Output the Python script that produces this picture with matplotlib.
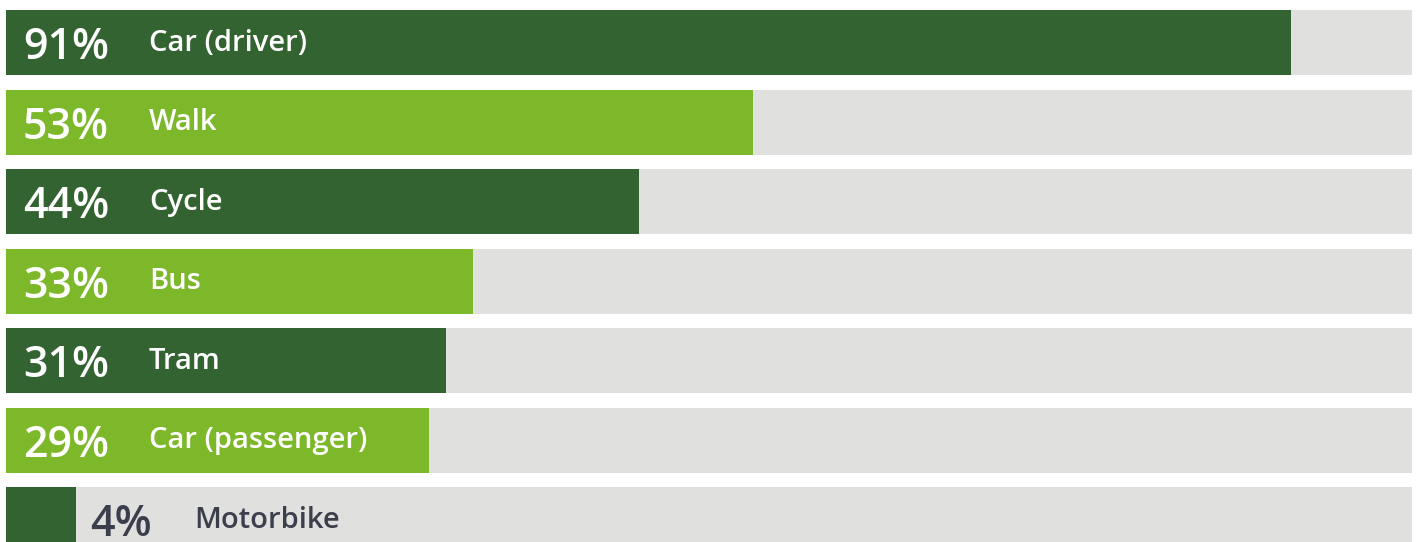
import matplotlib
matplotlib.use("Agg")
import matplotlib.pyplot as plt

# ---- data ----
categories = ["Car (driver)", "Walk", "Cycle", "Bus", "Tram", "Car (passenger)", "Motorbike"]
values = [91.4, 53.1, 45.0, 33.2, 31.3, 30.1, 5.0]   # bar lengths
pct_labels = ["91%", "53%", "44%", "33%", "31%", "29%", "4%"]
bar_colors = ["#336331", "#7cb82a", "#336331", "#7cb82a", "#336331", "#7cb82a", "#336331"]

GREY = "#e0e0df"
DARK_TEXT = "#3a3f4b"
FONT = ["Open Sans", "DejaVu Sans"]

W, H, DPI = 1416, 542, 100
fig = plt.figure(figsize=(W / DPI, H / DPI), dpi=DPI)
ax = fig.add_axes([6 / W, 0, (1412 - 6) / W, 1])
ax.set_xlim(0, 100)
ax.set_ylim(6.283, -0.535)
ax.axis("off")

bar_h = 65 / 79.5
ys = list(range(len(categories)))
ax.barh(ys, [100] * len(ys), height=bar_h, color=GREY, left=0, zorder=1)
ax.barh(ys, values, height=bar_h, color=bar_colors, zorder=2)

px = 72 / DPI  # points per pixel
for y, v, p, c in zip(ys, values, pct_labels, categories):
    inside = v > 20
    if inside:
        x0, off_p, off_l, col = 0, 17, 143, "white"
    else:
        x0, off_p, off_l, col = v, 14, 118, DARK_TEXT
    ax.annotate(p, (x0, y), xytext=(off_p * px, 0), textcoords="offset points",
                ha="left", va="center_baseline", fontsize=31, color=col,
                family=FONT, fontweight="semibold", zorder=3)
    ax.annotate(c, (x0, y), xytext=(off_l * px, 3 * px), textcoords="offset points",
                ha="left", va="center_baseline", fontsize=21, color=col,
                family=FONT, fontweight="semibold", zorder=3)

fig.savefig("out.png", dpi=DPI, facecolor="white")
